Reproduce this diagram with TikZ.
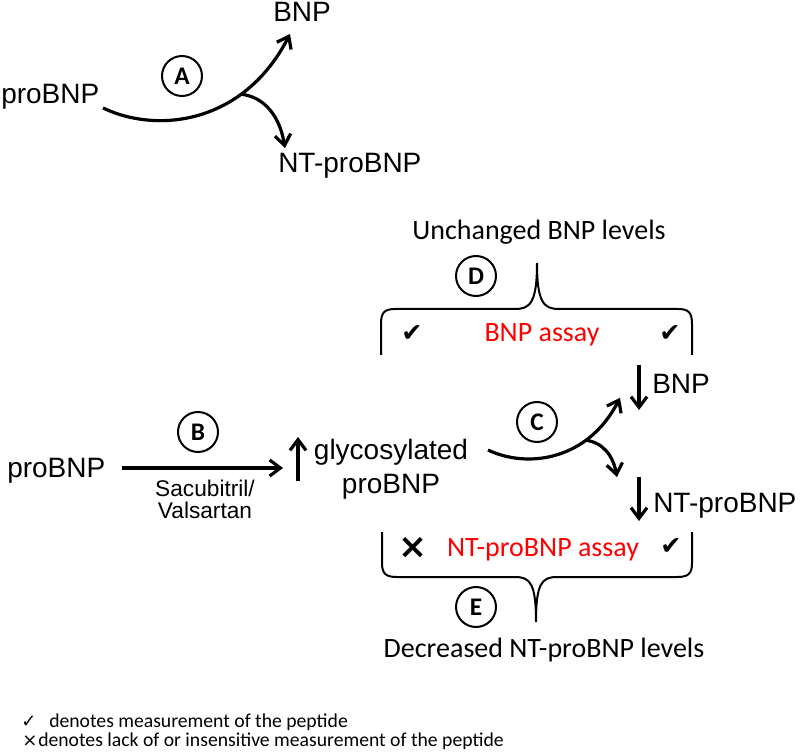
\documentclass[tikz,border=0pt]{standalone}
\usepackage{fontspec}
\setmainfont{Liberation Sans}
\newfontfamily\calibri{Carlito}
\newfontfamily\symb{DejaVu Sans}
\usetikzlibrary{arrows.meta}
\definecolor{assayred}{RGB}{255,0,0}
\tikzset{
    peptide/.style = {inner sep=0pt, font=\fontsize{21}{25.5}\selectfont},
    drug/.style = {inner sep=0pt, align=center, font=\fontsize{17}{16.5}\selectfont},
    bracetext/.style = {inner sep=0pt, font=\calibri\fontsize{21}{25}\selectfont},
    assay/.style = {bracetext, text=assayred},
    tick/.style = {inner sep=0pt, font=\symb\fontsize{19}{20}\selectfont},
    legend/.style = {inner sep=0pt, font=\calibri\fontsize{14.75}{17}\selectfont},
    legendtick/.style = {inner sep=0pt, font=\symb\fontsize{13.5}{16}\selectfont},
    stepcircle/.style = {circle, draw, line width=1.5pt, minimum size=30pt, inner sep=0pt,
        font=\calibri\bfseries\fontsize{19}{20}\selectfont},
    reaction/.style = {line width=2.4pt, -{Straight Barb[length=8pt,width=12pt]}},
    bracket/.style = {line width=1.5pt}}

\begin{document}
\begin{tikzpicture}[x=0.75pt,y=-0.75pt]
    \useasboundingbox (0,0) rectangle (800,752);
    % A: cleavage of proBNP
    \node[peptide,anchor=base west] (proA) at (1,104) {proBNP};
    \node[peptide,anchor=base west] (bnpA) at (273,22) {BNP};
    \node[peptide,anchor=base west] (ntA) at (278,173) {NT-proBNP};
    \node[stepcircle] (A) at (182,76) {A};
    \coordinate (startA) at (103,108);
    \coordinate (splitA) at (240.6,94.1);
    \coordinate (tipA) at (290,34);
    \coordinate (tipNTA) at (285,148);
    \draw[reaction] (startA) .. controls (160,135) and (245,122) .. (tipA);
    \draw[reaction] (splitA) .. controls (266,97) and (280,118) .. (tipNTA);
    % B: Sacubitril/Valsartan
    \node[peptide,anchor=base west] (proB) at (7,477) {proBNP};
    \node[stepcircle] (B) at (198,432) {B};
    \node[drug,anchor=base] (drug) at (205,518) {Sacubitril/\\Valsartan};
    \coordinate (startB) at (122,468);
    \coordinate (tipB) at (283,468);
    \draw[reaction] (startB) -- (tipB);
    \coordinate (upB) at (298,481);
    \draw[reaction] (upB) -- ++(0,-44);
    \node[peptide,anchor=base,align=center] (gly) at (391,493) {glycosylated\\proBNP};
    % C: cleavage of glycosylated proBNP
    \node[stepcircle] (C) at (537,422) {C};
    \coordinate (startC) at (488,450);
    \coordinate (splitC) at (585.1,440.2);
    \coordinate (tipC) at (620,397.8);
    \coordinate (tipNTC) at (617,477);
    \draw[reaction] (startC) .. controls (528.2,469.1) and (588.3,459.9) .. (tipC);
    \draw[reaction] (splitC) .. controls (603.4,442.1) and (613.2,456.4) .. (tipNTC);
    \node[peptide,anchor=base west] (bnpC) at (652,393) {BNP};
    \node[peptide,anchor=base west] (ntC) at (653,512) {NT-proBNP};
    \coordinate (downBNP) at (639,365);
    \coordinate (downNT) at (639,477);
    \draw[reaction] (downBNP) -- ++(0,45);
    \draw[reaction] (downNT) -- ++(0,44);
    % D: BNP assay
    \draw[bracket] (381,355) -- (381,324) .. controls (381,313) and (384,309) .. (395,309)
        -- (515,309) .. controls (530,309) and (537,303) .. (537,263)
        .. controls (537,303) and (544,309) .. (559,309) -- (678,309)
        .. controls (689,309) and (692,313) .. (692,324) -- (692,355);
    \node[bracetext,anchor=base] (unch) at (539,240) {Unchanged BNP levels};
    \node[stepcircle] (D) at (476,276) {D};
    \node[assay,anchor=base] (bnpassay) at (542,342) {BNP assay};
    \node[tick] (chk1) at (412,334) {✔};
    \node[tick] (chk2) at (670,334) {✔};
    % E: NT-proBNP assay
    \draw[bracket] (382,532) -- (382,563) .. controls (382,574) and (386,577) .. (397,577)
        -- (515,577) .. controls (530,577) and (536,583) .. (536,622)
        .. controls (536,583) and (542,577) .. (557,577) -- (677,577)
        .. controls (688,577) and (692,574) .. (692,563) -- (692,532);
    \node[assay,anchor=base] (ntassay) at (543,556) {NT-proBNP assay};
    \node[tick,font=\symb\bfseries\fontsize{26}{26}\selectfont] (crs) at (413,548) {×};
    \node[tick] (chk3) at (671,547) {✔};
    \node[stepcircle] (E) at (476,607) {E};
    \node[bracetext,anchor=base] (decr) at (544,657) {Decreased NT-proBNP levels};
    % legend
    \node[legendtick,anchor=base west] (chkL) at (21,727) {✓};
    \node[legend,anchor=base west] (txtL1) at (49,727) {denotes measurement of the peptide};
    \node[legendtick,anchor=base west] (crsL) at (22,746) {×};
    \node[legend,anchor=base west] (txtL2) at (38,746) {denotes lack of or insensitive measurement of the peptide};
\end{tikzpicture}
\end{document}
